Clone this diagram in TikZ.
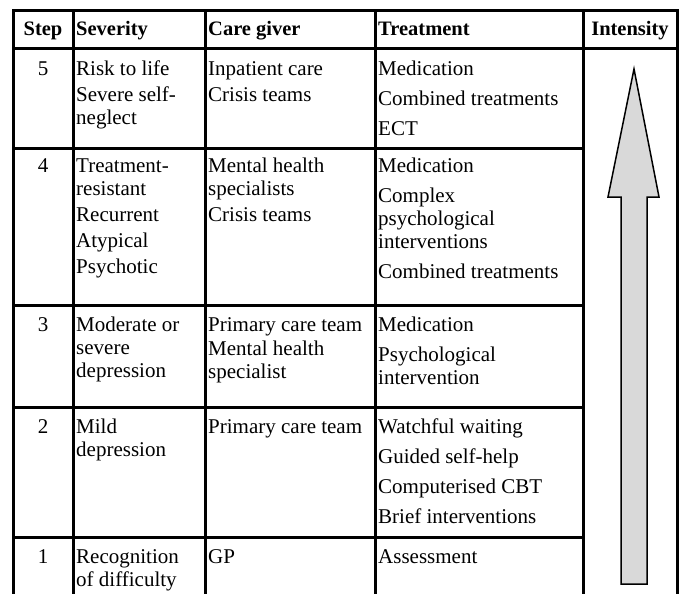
\documentclass[tikz,border=0pt]{standalone}
\usepackage{fontspec}
\setmainfont{Liberation Serif}
\usepackage{xcolor}
\usetikzlibrary{positioning}
\definecolor{arrowgrey}{HTML}{D9D9D9}
\tikzset{
	rule/.style={line width=3pt, line cap=rect},
	head/.style={anchor=north west, inner sep=0pt, font=\fontsize{20.5}{23}\selectfont\bfseries},
	num/.style={anchor=north, inner sep=0pt, font=\fontsize{21}{23}\selectfont},
	txt/.style={anchor=north west, inner sep=0pt, align=left, font=\fontsize{21}{23}\selectfont},
}

\begin{document}
\begin{tikzpicture}[x=1pt, y=-1pt]
	\useasboundingbox (0,0) rectangle (680,594);
	
	\draw[rule] (13,11) -- (677,11);
	\draw[rule] (13,49) -- (677,49);
	\foreach \y in {148,305,407,537}
		\draw[rule] (13,\y) -- (583,\y);
	\foreach \x in {13,73,205,375,583,677}
		\draw[rule] (\x,11) -- (\x,594);
	
	\node[head, anchor=north] (hstep) at (43,19) {\strut Step};
	\node[head] (hsev) at (76,19) {\strut Severity};
	\node[head] (hcare) at (208,19) {\strut Care giver};
	\node[head] (htreat) at (378,19) {\strut Treatment};
	\node[head, anchor=north] (hint) at (630,19) {\strut Intensity};
	
	\node[num] (n5) at (43,59) {\strut 5};
	\node[txt] (s5) at (76,59) {\strut Risk to life\\[3pt]Severe self-\\neglect};
	\node[txt] (c5) at (208,59) {\strut Inpatient care\\[3pt]Crisis teams};
	\node[txt] (t5) at (378,59) {\strut Medication\\[7pt]Combined treatments\\[7pt]ECT};
	
	\node[num] (n4) at (43,156) {\strut 4};
	\node[txt] (s4) at (76,156) {\strut Treatment-\\resistant\\[3pt]Recurrent\\[3pt]Atypical\\[3pt]Psychotic};
	\node[txt] (c4) at (208,156) {\strut Mental health\\specialists\\[3pt]Crisis teams};
	\node[txt] (t4) at (378,156) {\strut Medication\\[7pt]Complex\\psychological\\interventions\\[7pt]Combined treatments};
	
	\node[num] (n3) at (43,315) {\strut 3};
	\node[txt] (s3) at (76,315) {\strut Moderate or\\severe\\depression};
	\node[txt] (c3) at (208,315) {\strut Primary care team\\[1pt]Mental health\\specialist};
	\node[txt] (t3) at (378,315) {\strut Medication\\[7pt]Psychological\\intervention};
	
	\node[num] (n2) at (43,417) {\strut 2};
	\node[txt] (s2) at (76,417) {\strut Mild\\depression};
	\node[txt] (c2) at (208,417) {\strut Primary care team};
	\node[txt] (t2) at (378,417) {\strut Watchful waiting\\[7pt]Guided self-help\\[7pt]Computerised CBT\\[7pt]Brief interventions};
	
	\node[num] (n1) at (43,547) {\strut 1};
	\node[txt] (s1) at (76,547) {\strut Recognition\\of difficulty};
	\node[txt] (c1) at (208,547) {\strut GP};
	\node[txt] (t1) at (378,547) {\strut Assessment};
	
	\draw[line width=1.5pt, fill=arrowgrey] (634,69) -- (608,197) -- (621,197) -- (621,584) -- (647,584) -- (647,197) -- (659,197) -- cycle;
	
\end{tikzpicture}
\end{document}
